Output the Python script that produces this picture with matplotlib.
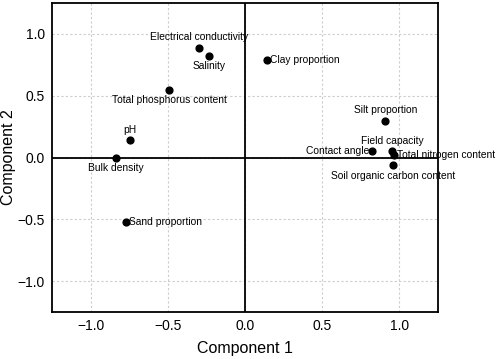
import matplotlib.pyplot as plt

plt.rcParams['font.family'] = ['Liberation Sans', 'DejaVu Sans']

# PCA loadings
labels = ['Electrical conductivity', 'Salinity', 'Total phosphorus content', 'pH',
          'Bulk density', 'Sand proportion', 'Clay proportion', 'Silt proportion',
          'Contact angle', 'Field capacity', 'Total nitrogen content',
          'Soil organic carbon content']
pc1 = [-0.30, -0.23, -0.49, -0.745, -0.838, -0.77, 0.145, 0.91, 0.822, 0.954, 0.967, 0.958]
pc2 = [0.89, 0.825, 0.548, 0.14, -0.003, -0.52, 0.788, 0.298, 0.051, 0.051, 0.022, -0.062]

# where each label sits relative to its point
place = ['above', 'below', 'below', 'above', 'below', 'right', 'right', 'above',
         'left', 'above', 'right', 'below']

fig = plt.figure(figsize=(4.98, 3.59), dpi=100)
ax = fig.add_axes([0.1044, 0.1309, 0.7751, 0.8607])

ax.axhline(0, color='black', lw=1.3, zorder=1)
ax.axvline(0, color='black', lw=1.3, zorder=1)
ax.scatter(pc1, pc2, s=24, color='black', zorder=3)

offsets = {'above': ((0, 4), 'center', 'bottom'),
           'below': ((0, -4), 'center', 'top'),
           'right': ((2, 0), 'left', 'center'),
           'left': ((-2, 0), 'right', 'center')}
for x, y, lab, p in zip(pc1, pc2, labels, place):
    off, ha, va = offsets[p]
    ax.annotate(lab, (x, y), xytext=off, textcoords='offset points',
                ha=ha, va=va, fontsize=7.4, annotation_clip=False, clip_on=False)

ax.set_xlim(-1.25, 1.25)
ax.set_ylim(-1.25, 1.25)
ax.set_xticks([-1.0, -0.5, 0.0, 0.5, 1.0])
ax.set_yticks([-1.0, -0.5, 0.0, 0.5, 1.0])
ax.tick_params(length=0, labelsize=10, pad=5)
ax.grid(True, color='#cccccc', ls=(0, (2, 2)), lw=0.8)
ax.set_axisbelow(True)
for sp in ax.spines.values():
    sp.set_linewidth(1.3)

ax.set_xlabel('Component 1', fontsize=11.5, labelpad=6)
ax.set_ylabel('Component 2', fontsize=11.5)
ax.yaxis.set_label_coords(-0.093, 0.5)

fig.savefig('out.png', dpi=100)
